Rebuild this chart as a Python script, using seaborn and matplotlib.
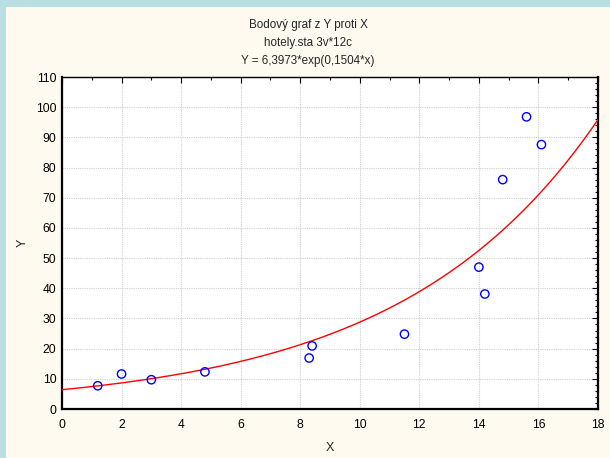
import matplotlib
matplotlib.use("Agg")
import matplotlib.pyplot as plt
from matplotlib.patches import Rectangle
from matplotlib.ticker import MultipleLocator
import numpy as np
import pandas as pd
import seaborn as sns

# data
x_vals = [1.2, 2.0, 3.0, 4.8, 8.3, 8.4, 11.5, 14.0, 14.2, 14.8, 15.6, 16.1]
y_vals = [7.7, 11.6, 9.7, 12.3, 16.9, 20.9, 24.8, 47.0, 38.1, 76.0, 96.8, 87.6]
# fitted model stated in the title: Y = a*exp(b*x)
fit_a = 6.3973
fit_b = 0.1504
title_lines = ["Bodový graf z Y proti X", "hotely.sta 3v*12c", "Y = 6,3973*exp(0,1504*x)"]

sns.set_style("white")
plt.rcParams['font.family'] = ['Liberation Sans', 'DejaVu Sans']

W, H = 610, 458
fig = plt.figure(figsize=(W / 100, H / 100), dpi=100)
fig.patch.set_facecolor("#B9DFE3")
bg = fig.add_axes([6 / W, 0, 1 - 6 / W, (H - 7) / H], zorder=-5)
bg.set_facecolor("#FEFAEF")
bg.set_axis_off()
bg.add_patch(Rectangle((0, 0), 1, 1, transform=bg.transAxes, facecolor="#FEFAEF", edgecolor="none"))

ax = fig.add_axes([62 / W, (H - 409) / H, 536 / W, 332 / H], zorder=1)
ax.set_facecolor("white")

df = pd.DataFrame({"X": x_vals, "Y": y_vals})
xs = np.linspace(0, 18, 300)
curve = pd.DataFrame({"X": xs, "Y": fit_a * np.exp(fit_b * xs)})

sns.lineplot(data=curve, x="X", y="Y", ax=ax, color="#FF0000", linewidth=1.0, zorder=3)
sns.scatterplot(data=df, x="X", y="Y", ax=ax, marker="o", s=36, facecolor="none",
                edgecolor="#0000FF", linewidth=1.0, zorder=4)

ax.set_xlim(0, 18)
ax.set_ylim(0, 110)
ax.xaxis.set_major_locator(MultipleLocator(2))
ax.xaxis.set_minor_locator(MultipleLocator(1))
ax.yaxis.set_major_locator(MultipleLocator(10))
ax.yaxis.set_minor_locator(MultipleLocator(2))
ax.grid(True, which="major", color="#CFCFCF", linestyle=(0, (1, 1)), linewidth=0.8)
ax.set_axisbelow(True)

ax.tick_params(which="both", direction="in", top=True, right=True, labelsize=8.7,
               colors="black", width=0.8)
ax.tick_params(which="major", length=4)
ax.tick_params(which="minor", length=2)
ax.tick_params(axis="y", which="major", pad=4)
ax.tick_params(axis="x", which="major", pad=7)

for side, sp in ax.spines.items():
    sp.set_color("black")
    sp.set_linewidth(1.6 if side in ("left", "bottom", "right") else 1.0)

ax.set_xlabel("X", fontsize=9, labelpad=8)
ax.set_ylabel("Y", fontsize=9, labelpad=5)

for i, t in enumerate(title_lines):
    fig.text(308 / W, 1 - (25 + 18 * i) / H, t, ha="center", va="center", fontsize=8.4)

fig.savefig("out.png", dpi=100, facecolor=fig.get_facecolor())
